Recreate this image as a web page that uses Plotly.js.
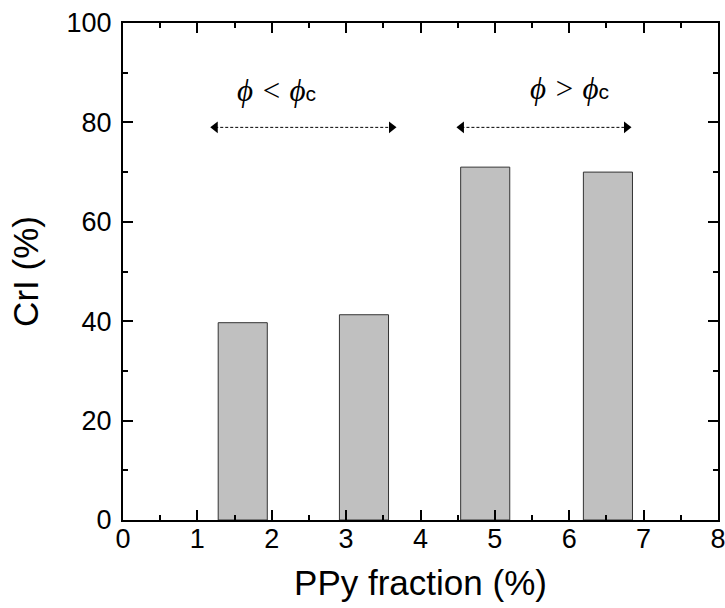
<!DOCTYPE html>
<html>
<head>
<meta charset="utf-8">
<script src="https://cdn.plot.ly/plotly-3.0.1.min.js"></script>
<style>html,body{margin:0;padding:0;background:#fff;}#chart{width:725px;height:608px;}</style>
</head>
<body>
<div id="chart"></div>
<script>
// Data
var ppyFraction = [1.61, 3.24, 4.87, 6.52];
var crI = [39.7, 41.3, 71.0, 70.0];
var barWidth = [0.66, 0.66, 0.66, 0.66];

var arrowLowX = [1.24, 3.61];
var arrowHighX = [4.55, 6.77];
var arrowY = [79, 79];

var labelLow = {x: 2.06, y: 86.4};
var labelHigh = {x: 6.0, y: 86.8};

var xTickVals = [0,1,2,3,4,5,6,7,8];
var yTickVals = [0,20,40,60,80,100];

var traces = [
  {
    type: 'bar',
    x: ppyFraction,
    y: crI,
    width: barWidth,
    marker: {color: '#c0c0c0', line: {color: '#333333', width: 1}},
    hoverinfo: 'x+y'
  },
  {
    type: 'scatter',
    mode: 'lines+markers',
    x: arrowLowX,
    y: arrowY,
    line: {color: '#000', width: 1, dash: '3px,2px'},
    marker: {symbol: ['triangle-left', 'triangle-right'], size: 10, color: '#000'},
    hoverinfo: 'skip'
  },
  {
    type: 'scatter',
    mode: 'lines+markers',
    x: arrowHighX,
    y: arrowY,
    line: {color: '#000', width: 1, dash: '3px,2px'},
    marker: {symbol: ['triangle-left', 'triangle-right'], size: 10, color: '#000'},
    hoverinfo: 'skip'
  }
];

var phiFont = {family: 'Liberation Serif, Times New Roman, serif', size: 31, color: '#000'};
var sub = "<span style='font-family:Liberation Sans, Arial, sans-serif;font-size:21px;font-style:normal'>c</span>";

var layout = {
  width: 725,
  height: 608,
  margin: {l: 123, r: 7, t: 23, b: 88},
  paper_bgcolor: '#fff',
  plot_bgcolor: '#fff',
  showlegend: false,
  bargap: 0,
  font: {family: 'Liberation Sans, Arial, sans-serif', color: '#000'},
  xaxis: {
    range: [0, 8],
    tickvals: xTickVals,
    ticks: 'inside',
    ticklen: 10,
    tickwidth: 2,
    tickcolor: '#000',
    showline: true,
    linewidth: 2,
    linecolor: '#000',
    mirror: 'allticks',
    showgrid: false,
    zeroline: false,
    tickfont: {size: 27, color: '#000'},
    ticklabelstandoff: -6,
    ticklabeloverflow: 'allow',
    minor: {dtick: 0.5, ticks: 'inside', ticklen: 5, tickwidth: 2, tickcolor: '#000', showgrid: false},
    title: {text: 'PPy fraction (%)', font: {size: 35, color: '#000'}, standoff: 17}
  },
  yaxis: {
    range: [0, 100],
    tickvals: yTickVals,
    ticks: 'inside',
    ticklen: 10,
    tickwidth: 2,
    tickcolor: '#000',
    showline: true,
    linewidth: 2,
    linecolor: '#000',
    mirror: 'allticks',
    showgrid: false,
    zeroline: false,
    tickfont: {size: 27, color: '#000'},
    ticklabelstandoff: 4,
    ticklabeloverflow: 'allow',
    minor: {dtick: 10, ticks: 'inside', ticklen: 5, tickwidth: 2, tickcolor: '#000', showgrid: false},
    title: {text: 'CrI (%)', font: {size: 35, color: '#000'}, standoff: 17}
  },
  annotations: [
    {
      x: labelLow.x, y: labelLow.y, xref: 'x', yref: 'y', showarrow: false,
      text: "<i>\u03d5 &lt; \u03d5</i>" + sub,
      font: phiFont
    },
    {
      x: labelHigh.x, y: labelHigh.y, xref: 'x', yref: 'y', showarrow: false,
      text: "<i>\u03d5 &gt; \u03d5</i>" + sub,
      font: phiFont
    }
  ]
};

Plotly.newPlot('chart', traces, layout, {staticPlot: true, displayModeBar: false});
</script>
</body>
</html>
